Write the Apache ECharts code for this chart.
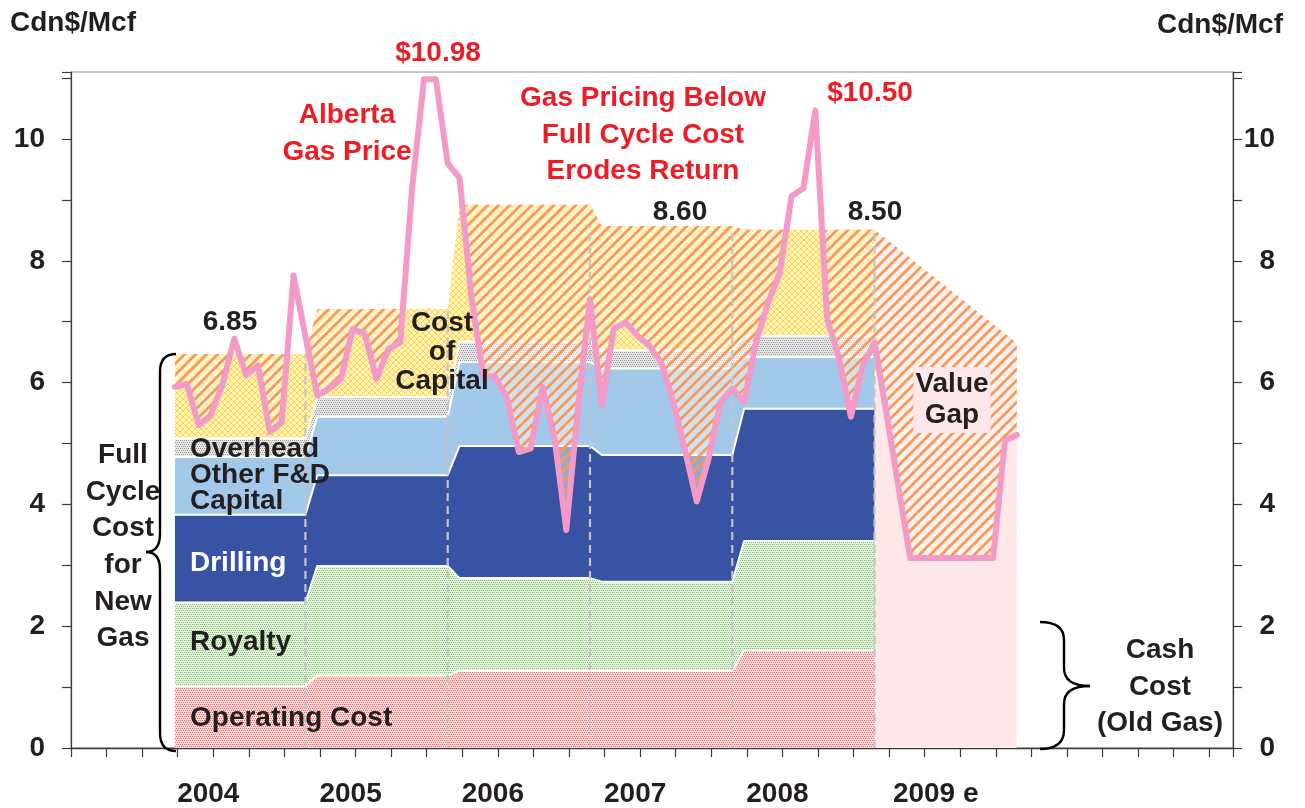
<!DOCTYPE html>
<html><head><meta charset="utf-8">
<script src="https://cdn.jsdelivr.net/npm/echarts@6/dist/echarts.min.js"></script>
<style>html,body{margin:0;padding:0;background:#fff}#c{width:1305px;height:808px}</style>
</head><body><div id="c"></div>
<script>
// ---------------- data ----------------
const years = ['2004', '2005', '2006', '2007', '2008'];
const operating     = [1.02, 1.19, 1.27, 1.27, 1.61];
const royalty       = [1.37, 1.80, 1.52, 1.46, 1.79];
const drilling      = [1.44, 1.49, 2.17, 2.08, 2.17];
const otherFD       = [0.95, 0.96, 1.38, 1.42, 0.85];
const overhead      = [0.30, 0.32, 0.33, 0.30, 0.35];
const costOfCapital = [1.39, 1.45, 2.25, 2.04, 1.74];
const valueGapTop   = [8.51, 6.65];          // 2009e full cycle cost: start, end
const price = [                               // Alberta gas price, monthly Jan 2004 - Dec 2009
  5.93, 5.98, 5.30, 5.46, 5.97, 6.72, 6.12, 6.28, 5.19, 5.35, 7.76, 6.76,
  5.79, 5.90, 6.06, 6.88, 6.80, 6.06, 6.55, 6.66, 9.20, 10.98, 10.98, 9.60,
  9.36, 7.40, 6.12, 6.09, 5.75, 4.86, 4.92, 5.93, 5.10, 3.58, 5.60, 7.37,
  5.63, 6.88, 6.99, 6.77, 6.61, 6.33, 5.70, 4.90, 4.05, 4.75, 5.68, 5.90,
  5.68, 6.66, 7.30, 7.80, 9.06, 9.19, 10.47, 7.05, 6.40, 5.44, 6.28, 6.66,
  5.50, 4.30, 3.12, 3.12, 3.12, 3.12, 3.12, 3.12, 3.12, 3.12, 5.05, 5.14
];
const xTickLabels = {12: '2004', 24: '2005', 36: '2006', 48: '2007', 60: '2008', 72: '2009 e'};
const yTickLabels = {0: '0', 2: '2', 4: '4', 6: '6', 8: '8', 10: '10'};

// ---------------- helpers ----------------
const X0 = 8.77;                 // axis position of Jan 2004 (axis in months, ticks per quarter)
const mx = k => X0 + k;
function yearSeries(vals) {
  const d = [];
  vals.forEach((v, i) => { d.push([mx(12 * i), v]); d.push([mx(12 * i + 11), v]); });
  return d;
}
const components = [operating, royalty, drilling, otherFD, overhead, costOfCapital];
const cumTops = components.map((_, li) => years.map((_, yi) => {
  let s = 0; for (let j = 0; j <= li; j++) s += components[j][yi]; return +s.toFixed(4);
}));
const full = cumTops[5];

function makePattern(w, h, draw) {
  const c = document.createElement('canvas'); c.width = w; c.height = h;
  draw(c.getContext('2d'), w, h);
  return {image: c, repeat: 'repeat'};
}
const dots = (bg, fg) => makePattern(4, 4, ctx => {
  ctx.fillStyle = bg; ctx.fillRect(0, 0, 4, 4);
  ctx.fillStyle = fg; [[0, 0], [2, 0], [1, 2], [3, 2]].forEach(p => ctx.fillRect(p[0], p[1], 1, 1));
});
const patOp = dots('#FCDADA', '#EE6464');
const patRoy = dots('#E6F4DF', '#7DC16A');
const patOvh = dots('#E6E6E6', '#9C9C9C');
const patCap = makePattern(6, 6, ctx => {
  ctx.fillStyle = '#FFF3C2'; ctx.fillRect(0, 0, 6, 6);
  ctx.fillStyle = '#FFD440';
  for (let i = 0; i < 6; i++) { ctx.fillRect(i, i, 1, 1); ctx.fillRect(i, 5 - i, 1, 1); }
});
const patStripe = makePattern(11, 11, ctx => {
  ctx.fillStyle = 'rgba(255,252,240,0.5)'; ctx.fillRect(0, 0, 11, 11);
  ctx.strokeStyle = '#F6995E'; ctx.lineWidth = 2.7;
  [-11, 0, 11].forEach(o => { ctx.beginPath(); ctx.moveTo(o - 1, 12); ctx.lineTo(o + 12, -1); ctx.stroke(); });
});

// full-cycle cost polyline (month index, value)
const costPts = [];
full.forEach((v, i) => { costPts.push([12 * i, v], [12 * i + 11, v]); });
costPts.push([59, valueGapTop[0]], [71, valueGapTop[1]]);
function evalPL(pts, t) {
  for (let i = pts.length - 2; i >= 0; i--) {
    const a = pts[i], b = pts[i + 1];
    if (b[0] > a[0] && t >= a[0] && t <= b[0]) return a[1] + (b[1] - a[1]) * (t - a[0]) / (b[0] - a[0]);
  }
  return pts[pts.length - 1][1];
}
const pricePts = price.map((v, k) => [k, v]);
const ts = [];
for (let k = 0; k < price.length; k++) {
  ts.push(k);
  if (k < price.length - 1) {
    const d0 = evalPL(costPts, k) - price[k], d1 = evalPL(costPts, k + 1) - price[k + 1];
    if (d0 * d1 < 0) ts.push(k + d0 / (d0 - d1));
  }
}
const gapPoly = [];
ts.forEach(t => gapPoly.push([mx(t), evalPL(costPts, t)]));
ts.slice().reverse().forEach(t => gapPoly.push([mx(t), Math.min(evalPL(pricePts, t), evalPL(costPts, t))]));

// ---------------- chart ----------------
const chart = echarts.init(document.getElementById('c'), null, {renderer: 'canvas'});
const FONT = '"Liberation Sans", Arial, Helvetica, sans-serif';
const layerFills = [patOp, patRoy, '#3852A4', '#A3C9EA', patOvh, patCap];
const series = [];
for (let li = 5; li >= 0; li--) {
  series.push({
    type: 'line', data: yearSeries(cumTops[li]), showSymbol: false,
    lineStyle: {width: 0}, areaStyle: {color: layerFills[li], opacity: 1, origin: 'start'}, z: 1, silent: true
  });
}
for (let li = 0; li < 5; li++) {
  series.push({
    type: 'line', data: yearSeries(cumTops[li]), showSymbol: false,
    lineStyle: {width: 2, color: '#FFFFFF'}, z: 2, silent: true
  });
}
series.push({
  type: 'line', data: [[mx(59), valueGapTop[0]], [mx(71), valueGapTop[1]]],
  showSymbol: false, lineStyle: {width: 0}, areaStyle: {color: '#FDE7E8', opacity: 1, origin: 'start'}, z: 1, silent: true
});
series.push({
  type: 'custom', data: [[0, 0]], z: 3, silent: true,
  renderItem: (params, api) => ({
    type: 'polygon', shape: {points: gapPoly.map(p => api.coord(p))}, style: {fill: patStripe}
  })
});
for (let i = 0; i < 5; i++) {
  const h = i < 4 ? Math.min(full[i], full[i + 1]) : full[i];
  series.push({
    type: 'line', data: [[mx(12 * i + 11), 0], [mx(12 * i + 11), h]], showSymbol: false, z: 4, silent: true,
    lineStyle: {color: '#C4C4C4', width: 2.2, type: [8, 5]}
  });
}
series.push({
  type: 'line', name: 'Alberta Gas Price', data: price.map((v, k) => [mx(k), v]), showSymbol: false, z: 5,
  lineStyle: {color: '#F39BC6', width: 6, join: 'round', cap: 'round'}, silent: true
});

const FS = 28;
const tx = (text, x, y, o) => ({
  type: 'text', z: 100, silent: true,
  style: Object.assign({text, x, y, fill: '#231F20', font: 'bold ' + FS + 'px ' + FONT,
    align: 'center', verticalAlign: 'middle', textAlign: 'center', textVerticalAlign: 'middle'}, o || {})
});
const RED = '#EE1D25';
const blk = {stroke: '#000', lineWidth: 2.4, fill: null};
const bz = (x1, y1, cx, cy, x2, y2) => ({type: 'bezierCurve', z: 100, silent: true, shape: {x1, y1, cpx1: cx, cpy1: cy, x2, y2}, style: blk});
const ln = (x1, y1, x2, y2) => ({type: 'line', z: 100, silent: true, shape: {x1, y1, x2, y2}, style: blk});

const graphic = [
  tx('Cdn$/Mcf', 10, 23, {align: 'left', textAlign: 'left'}),
  tx('Cdn$/Mcf', 1283, 25, {align: 'right', textAlign: 'right'}),
  tx('Alberta\nGas Price', 347, 134, {fill: RED, lineHeight: 37}),
  tx('$10.98', 438, 53, {fill: RED}),
  tx('Gas Pricing Below\nFull Cycle Cost\nErodes Return', 643, 135, {fill: RED, lineHeight: 36.5}),
  tx('$10.50', 870, 93, {fill: RED}),
  tx('6.85', 230, 322),
  tx('8.60', 680, 212),
  tx('8.50', 875, 212),
  tx('Cost\nof\nCapital', 442, 352, {lineHeight: 29}),
  tx('Overhead', 190, 449, {align: 'left', textAlign: 'left'}),
  tx('Other F&D', 190, 475, {align: 'left', textAlign: 'left'}),
  tx('Capital', 190, 501, {align: 'left', textAlign: 'left'}),
  tx('Drilling', 190, 563, {align: 'left', textAlign: 'left', fill: '#FFFFFF'}),
  tx('Royalty', 190, 642, {align: 'left', textAlign: 'left'}),
  tx('Operating Cost', 190, 718, {align: 'left', textAlign: 'left'}),
  tx('Value\nGap', 952, 400, {lineHeight: 31, backgroundColor: '#FDE7E8', padding: [2, 2]}),
  tx('Full\nCycle\nCost\nfor\nNew\nGas', 123, 547, {lineHeight: 36.6}),
  tx('Cash\nCost\n(Old Gas)', 1160, 687, {lineHeight: 36.5}),
  bz(176, 354, 160, 354, 160, 372), ln(160, 372, 160, 534), bz(160, 534, 160, 552, 146, 552),
  bz(146, 552, 160, 552, 160, 570), ln(160, 570, 160, 733), bz(160, 733, 160, 751, 176, 751),
  bz(1040, 622, 1064, 622, 1064, 640), ln(1064, 640, 1064, 668), bz(1064, 668, 1064, 686, 1090, 686),
  bz(1090, 686, 1064, 686, 1064, 704), ln(1064, 704, 1064, 730), bz(1064, 730, 1064, 749, 1040, 749)
];

const yAxisBase = {
  type: 'value', min: 0, max: 11.1, interval: 1, splitLine: {show: false},
  axisLine: {show: true, lineStyle: {color: '#3A3A3A', width: 1.2}},
  axisTick: {show: true, length: 9, lineStyle: {color: '#3A3A3A', width: 1.2}},
  axisLabel: {formatter: v => yTickLabels[v] || '', color: '#231F20', fontFamily: FONT, fontWeight: 'bold', fontSize: FS}
};

chart.setOption({
  animation: false,
  backgroundColor: '#FFFFFF',
  grid: {left: 71, right: 72, top: 72, bottom: 57, containLabel: false, show: true, borderColor: '#8A8A8A', borderWidth: 1},
  xAxis: {
    type: 'value', min: 0, max: 98, interval: 3, splitLine: {show: false},
    axisLine: {show: true, onZero: false, lineStyle: {color: '#3A3A3A', width: 1.4}},
    axisTick: {show: true, length: 9, lineStyle: {color: '#3A3A3A', width: 1.2}},
    axisLabel: {
      formatter: v => xTickLabels[v] ? (v === 72 ? '{e|' + xTickLabels[v] + '}' : '{y|' + xTickLabels[v] + '}') : '',
      margin: 32, color: '#231F20', fontFamily: FONT, fontWeight: 'bold', fontSize: FS,
      rich: {
        y: {padding: [0, 10, 0, 0], color: '#231F20', fontFamily: FONT, fontWeight: 'bold', fontSize: FS},
        e: {padding: [0, 0, 0, 22], color: '#231F20', fontFamily: FONT, fontWeight: 'bold', fontSize: FS}
      }
    }
  },
  yAxis: [
    Object.assign({}, yAxisBase, {position: 'left', axisLabel: Object.assign({}, yAxisBase.axisLabel, {margin: 26})}),
    Object.assign({}, yAxisBase, {position: 'right', axisLabel: Object.assign({}, yAxisBase.axisLabel, {margin: 42, align: 'right'})})
  ],
  series,
  graphic
});
</script></body></html>
